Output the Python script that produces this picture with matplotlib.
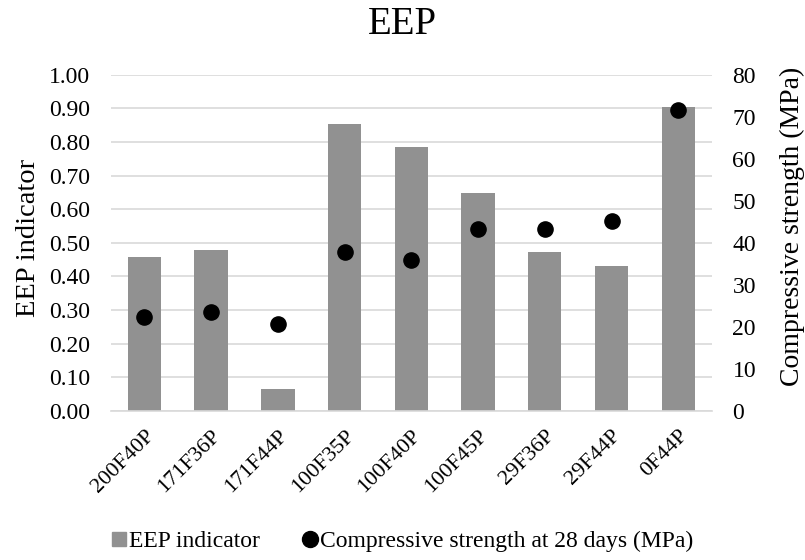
import matplotlib.pyplot as plt
import numpy as np
from matplotlib.lines import Line2D

plt.rcParams['font.family'] = ['Liberation Serif', 'DejaVu Serif']

# 数据
mixes = ['200F40P', '171F36P', '171F44P', '100F35P', '100F40P', '100F45P', '29F36P', '29F44P', '0F44P']
eep = [0.458, 0.477, 0.065, 0.854, 0.784, 0.649, 0.471, 0.430, 0.903]
strength_28d = [22.2, 23.4, 20.6, 37.7, 35.8, 43.3, 43.3, 45.2, 71.7]

fig = plt.figure(figsize=(8.05, 5.6), dpi=100)
ax = fig.add_axes([0.138, 0.2666, 0.746, 0.60])
x = np.arange(len(mixes))

ax.bar(x, eep, width=0.5, color='#919191', zorder=2)
ax.set_ylim(0, 1.0)
ax.set_yticks(np.arange(0, 1.01, 0.1))
ax.set_yticklabels(['%.2f' % v for v in np.arange(0, 1.01, 0.1)], fontsize=17)
ax.set_xlim(-0.5, len(mixes) - 0.5)
ax.set_xticks(x)
ax.set_xticklabels(mixes, rotation=45, ha='right', rotation_mode='anchor', fontsize=16)
ax.set_ylabel('EEP indicator', fontsize=20.5)
ax.yaxis.set_label_coords(-0.116, 0.515)
ax.grid(axis='y', color='#d9d9d9', linewidth=1.2, zorder=0)
ax.tick_params(axis='y', length=0, pad=15)
ax.tick_params(axis='x', length=0, pad=11)
for s in ['top', 'right', 'left']:
    ax.spines[s].set_visible(False)
ax.spines['bottom'].set_color('#d9d9d9')
ax.spines['bottom'].set_linewidth(1.2)

# 右轴 抗压强度
ax2 = ax.twinx()
ax2.scatter(x, strength_28d, s=120, color='black', zorder=3)
ax2.set_ylim(0, 80)
ax2.set_yticks(np.arange(0, 81, 10))
ax2.tick_params(length=0, labelsize=17, pad=15)
ax2.set_ylabel('Compressive strength (MPa)', fontsize=20)
ax2.yaxis.set_label_coords(1.113, 0.548)
for s in ax2.spines.values():
    s.set_visible(False)

fig.text(0.5, 0.939, 'EEP', fontsize=28, ha='center', va='baseline')

handles = [Line2D([], [], marker='s', color='#919191', linestyle='none', markersize=9.4),
           Line2D([], [], marker='o', color='black', linestyle='none', markersize=11.5)]
fig.legend(handles, ['EEP indicator', 'Compressive strength at 28 days (MPa)'],
           loc='center', bbox_to_anchor=(0.5, 0.033), ncol=2, frameon=False,
           fontsize=17, handlelength=0.6, handletextpad=0.15, columnspacing=1.8,
           borderaxespad=0, borderpad=0)

fig.savefig('out.png', dpi=100)
